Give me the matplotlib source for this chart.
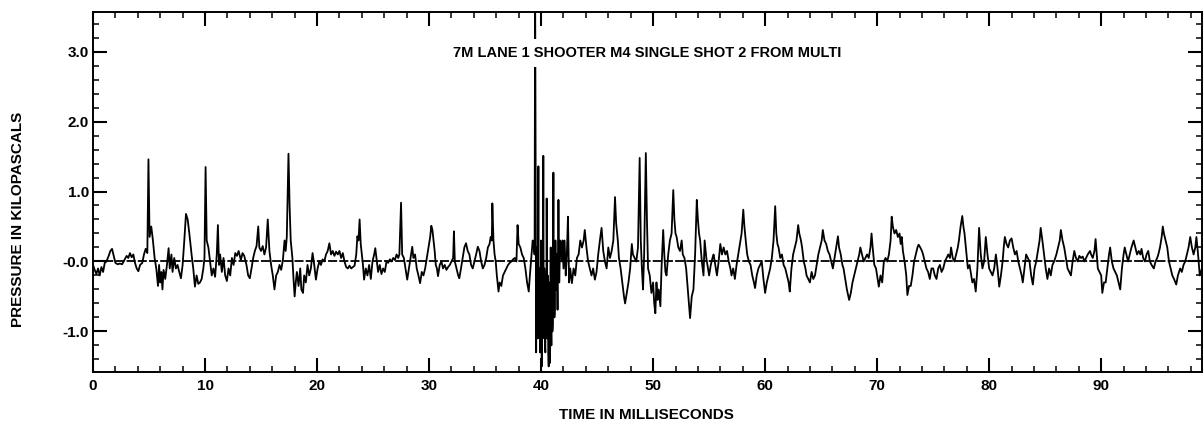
import matplotlib
matplotlib.use("Agg")
import matplotlib.pyplot as plt
from matplotlib.ticker import MultipleLocator

plt.rcParams['font.family'] = ['Liberation Sans', 'DejaVu Sans']

# time (ms) / pressure (kPa)
time_ms = [
    0.0, 0.15, 0.3, 0.45, 0.6, 0.75, 0.9, 1.05, 1.2, 1.4, 1.55, 1.7, 1.85, 2.0, 2.2, 2.4, 2.6, 2.8,
    3.0, 3.15, 3.3, 3.45, 3.6, 3.75, 3.9, 4.05, 4.2, 4.4, 4.55, 4.7, 4.85, 4.95, 5.05, 5.2, 5.35,
    5.5, 5.65, 5.8, 5.9, 6.0, 6.1, 6.2, 6.3, 6.45, 6.6, 6.75, 6.85, 7.0, 7.1, 7.25, 7.4, 7.55, 7.7,
    7.85, 8.0, 8.15, 8.3, 8.45, 8.6, 8.8, 8.95, 9.1, 9.25, 9.4, 9.55, 9.7, 9.85, 9.95, 10.05, 10.15,
    10.3, 10.45, 10.6, 10.75, 10.9, 11.05, 11.15, 11.25, 11.35, 11.5, 11.65, 11.8, 11.95, 12.1,
    12.25, 12.4, 12.55, 12.7, 12.85, 13.0, 13.2, 13.35, 13.5, 13.7, 13.85, 14.0, 14.15, 14.3, 14.45,
    14.6, 14.75, 14.85, 15.0, 15.15, 15.3, 15.45, 15.6, 15.75, 15.9, 16.05, 16.2, 16.35, 16.5,
    16.65, 16.8, 16.95, 17.1, 17.2, 17.3, 17.45, 17.55, 17.65, 17.8, 17.9, 18.0, 18.1, 18.2, 18.35,
    18.5, 18.6, 18.75, 18.85, 19.0, 19.15, 19.3, 19.45, 19.6, 19.75, 19.9, 20.05, 20.2, 20.35,
    20.5, 20.65, 20.8, 20.95, 21.1, 21.25, 21.4, 21.55, 21.7, 21.85, 22.0, 22.15, 22.3, 22.45,
    22.6, 22.75, 22.9, 23.05, 23.2, 23.35, 23.5, 23.6, 23.7, 23.8, 23.9, 24.0, 24.1, 24.2, 24.35,
    24.5, 24.65, 24.8, 24.95, 25.1, 25.2, 25.3, 25.45, 25.6, 25.75, 25.9, 26.05, 26.2, 26.35,
    26.5, 26.65, 26.8, 26.95, 27.1, 27.25, 27.35, 27.5, 27.6, 27.75, 27.9, 28.05, 28.2, 28.35,
    28.5, 28.6, 28.75, 28.9, 29.05, 29.2, 29.35, 29.5, 29.65, 29.8, 29.95, 30.1, 30.2, 30.3, 30.4,
    30.5, 30.6, 30.7, 30.8, 30.95, 31.1, 31.25, 31.4, 31.55, 31.7, 31.85, 32.0, 32.15, 32.22, 32.3,
    32.45, 32.6, 32.7, 32.85, 33.0, 33.15, 33.3, 33.45, 33.6, 33.75, 33.9, 34.05, 34.2, 34.35,
    34.5, 34.65, 34.8, 34.95, 35.1, 35.25, 35.4, 35.5, 35.6, 35.65, 35.75, 35.85, 35.95, 36.05,
    36.2, 36.3, 36.45, 36.6, 36.75, 36.9, 37.05, 37.2, 37.35, 37.5, 37.65, 37.8, 37.9, 38.0,
    38.15, 38.3, 38.45, 38.6, 38.75, 38.9, 39.0, 39.15, 39.25, 39.35, 39.42, 39.47, 39.52,
    39.56, 39.59, 39.62, 39.65, 39.68, 39.71, 39.74, 39.76, 39.79, 39.82,
    39.85, 39.88, 39.91, 39.94, 39.97, 40.0, 40.03, 40.06, 40.09, 40.12,
    40.15, 40.18, 40.2, 40.23, 40.26, 40.29, 40.32, 40.35, 40.38, 40.41,
    40.44, 40.47, 40.5, 40.53, 40.56, 40.59, 40.62, 40.65, 40.68, 40.71,
    40.74, 40.77, 40.8, 40.83, 40.86, 40.89, 40.92, 40.95, 40.98, 41.01,
    41.04, 41.07, 41.1, 41.13, 41.16, 41.19, 41.22,
    41.28, 41.34, 41.4, 41.47, 41.55, 41.62, 41.7, 41.78, 41.85, 41.92, 42.0, 42.1, 42.2, 42.3,
    42.4, 42.5, 42.6, 42.75, 42.9, 43.05, 43.2, 43.35, 43.5, 43.65, 43.8, 43.9, 44.05, 44.2, 44.35,
    44.5, 44.65, 44.8, 44.95, 45.1, 45.25, 45.4, 45.55, 45.7, 45.85, 46.0, 46.15, 46.3, 46.45,
    46.6, 46.7, 46.85, 46.95, 47.1, 47.25, 47.4, 47.5, 47.65, 47.8, 47.95, 48.1, 48.2, 48.35, 48.5,
    48.65, 48.8, 48.9, 49.0, 49.1, 49.2, 49.35, 49.45, 49.55, 49.7, 49.85, 50.0, 50.1, 50.2, 50.3,
    50.4, 50.5, 50.65, 50.75, 50.9, 51.0, 51.1, 51.2, 51.35, 51.5, 51.65, 51.8, 51.9, 52.0, 52.1,
    52.25, 52.4, 52.55, 52.65, 52.8, 52.95, 53.1, 53.2, 53.3, 53.45, 53.6, 53.75, 53.9, 54.0, 54.1,
    54.2, 54.35, 54.5, 54.6, 54.75, 54.9, 55.0, 55.15, 55.3, 55.4, 55.55, 55.7, 55.85, 56.0, 56.15,
    56.3, 56.45, 56.6, 56.75, 56.9, 57.0, 57.15, 57.3, 57.45, 57.6, 57.75, 57.9, 58.05, 58.15,
    58.3, 58.4, 58.55, 58.7, 58.85, 59.0, 59.1, 59.25, 59.4, 59.55, 59.7, 59.85, 60.0, 60.15, 60.3,
    60.45, 60.6, 60.75, 60.9, 61.0, 61.1, 61.2, 61.35, 61.5, 61.65, 61.8, 61.95, 62.1, 62.2, 62.35,
    62.5, 62.65, 62.8, 62.95, 63.05, 63.2, 63.3, 63.45, 63.6, 63.7, 63.85, 64.0, 64.15, 64.3,
    64.45, 64.6, 64.75, 64.9, 65.05, 65.15, 65.3, 65.45, 65.6, 65.75, 65.9, 66.05, 66.2, 66.35,
    66.5, 66.6, 66.75, 66.9, 67.0, 67.15, 67.3, 67.5, 67.65, 67.8, 67.95, 68.1, 68.25, 68.4, 68.5,
    68.65, 68.8, 68.95, 69.1, 69.25, 69.4, 69.5, 69.6, 69.75, 69.9, 70.05, 70.15, 70.3, 70.45,
    70.6, 70.75, 70.9, 71.05, 71.2, 71.3, 71.4, 71.55, 71.7, 71.85, 72.0, 72.1, 72.2, 72.3, 72.45,
    72.6, 72.7, 72.85, 73.0, 73.15, 73.3, 73.45, 73.6, 73.7, 73.85, 74.0, 74.1, 74.25, 74.4, 74.55,
    74.7, 74.85, 75.0, 75.15, 75.3, 75.45, 75.6, 75.75, 75.9, 76.05, 76.2, 76.35, 76.5, 76.6,
    76.75, 76.9, 77.05, 77.2, 77.3, 77.45, 77.6, 77.7, 77.8, 77.95, 78.1, 78.25, 78.4, 78.5, 78.65,
    78.8, 78.95, 79.1, 79.25, 79.4, 79.55, 79.7, 79.85, 80.0, 80.15, 80.3, 80.45, 80.6, 80.75,
    80.9, 81.05, 81.2, 81.3, 81.4, 81.55, 81.7, 81.85, 82.0, 82.15, 82.3, 82.45, 82.6, 82.75, 82.9,
    83.0, 83.15, 83.3, 83.45, 83.6, 83.75, 83.9, 84.05, 84.2, 84.35, 84.5, 84.6, 84.75, 84.9,
    85.05, 85.2, 85.35, 85.5, 85.65, 85.8, 86.0, 86.15, 86.3, 86.4, 86.55, 86.7, 86.85, 87.0,
    87.15, 87.3, 87.45, 87.6, 87.75, 87.9, 88.05, 88.2, 88.35, 88.5, 88.65, 88.8, 89.0, 89.1,
    89.25, 89.4, 89.5, 89.6, 89.7, 89.85, 90.0, 90.1, 90.25, 90.4, 90.55, 90.7, 90.8, 90.95, 91.1,
    91.25, 91.4, 91.55, 91.7, 91.85, 92.0, 92.1, 92.25, 92.4, 92.55, 92.7, 92.9, 93.05, 93.2,
    93.35, 93.5, 93.6, 93.75, 93.9, 94.05, 94.2, 94.35, 94.5, 94.7, 94.85, 95.0, 95.1, 95.25, 95.4,
    95.5, 95.6, 95.75, 95.9, 96.05, 96.2, 96.35, 96.5, 96.7, 96.85, 97.05, 97.2, 97.35, 97.5,
    97.65, 97.8, 97.95, 98.1, 98.25, 98.4, 98.5, 98.65, 98.8, 99.0,
]
pressure_kpa = [
    -0.05, -0.12, -0.18, -0.1, -0.2, -0.08, -0.15, -0.02, 0.0, 0.08, 0.15, 0.18, 0.08, -0.02, -0.04,
    -0.03, -0.04, 0.02, 0.08, 0.05, 0.12, 0.06, 0.1, -0.02, -0.1, -0.14, -0.05, -0.02, 0.1, 0.18,
    0.12, 1.46, 0.35, 0.5, 0.3, 0.05, -0.1, -0.35, -0.05, -0.3, -0.15, -0.4, -0.12, -0.25, -0.05,
    0.19, -0.1, 0.1, -0.15, 0.05, -0.1, -0.05, -0.15, -0.24, -0.05, 0.3, 0.68, 0.6, 0.4, 0.1, -0.1,
    -0.36, -0.2, -0.32, -0.3, -0.25, -0.1, 0.05, 1.35, 0.3, 0.2, 0.0, -0.2, -0.1, -0.22, 0.1, 0.52,
    -0.05, 0.1, -0.15, 0.05, -0.2, -0.28, -0.1, -0.2, 0.05, -0.05, 0.12, 0.08, 0.15, 0.02, 0.12,
    0.08, -0.05, -0.2, -0.24, -0.1, 0.05, 0.15, 0.22, 0.5, 0.2, 0.15, 0.22, 0.1, 0.2, 0.6, 0.15,
    -0.05, -0.2, -0.4, -0.2, -0.15, -0.05, -0.12, 0.02, 0.3, 0.15, 0.35, 1.54, 0.8, 0.3, 0.05,
    -0.25, -0.5, -0.3, -0.15, -0.35, -0.1, -0.4, -0.45, -0.2, -0.3, -0.05, -0.2, -0.1, 0.12, -0.05,
    -0.26, -0.1, 0.0, -0.05, 0.03, 0.0, 0.1, 0.15, 0.26, 0.1, 0.15, 0.08, 0.14, 0.1, 0.15, 0.05,
    0.12, 0.0, -0.08, -0.1, -0.06, -0.1, -0.08, -0.06, 0.1, 0.36, 0.3, 0.6, 0.25, 0.1, -0.05, -0.26,
    -0.1, -0.2, -0.05, -0.25, 0.0, 0.1, 0.19, 0.05, -0.15, -0.05, -0.18, -0.1, -0.15, 0.0, -0.02,
    0.03, 0.0, 0.05, 0.02, 0.1, 0.05, 0.1, 0.84, 0.1, 0.05, -0.1, -0.26, -0.1, 0.05, 0.21, 0.05,
    0.1, -0.1, -0.2, -0.31, -0.15, -0.2, -0.1, 0.05, 0.2, 0.35, 0.51, 0.45, 0.3, 0.15, -0.05, -0.1,
    -0.21, -0.05, 0.0, -0.1, -0.05, -0.12, -0.08, -0.05, 0.0, 0.05, 0.43, 0.0, -0.1, -0.2, -0.24,
    -0.1, 0.05, 0.2, 0.26, 0.15, 0.1, -0.05, -0.1, 0.0, 0.1, 0.21, 0.15, 0.0, -0.1, -0.05, 0.05,
    0.2, 0.25, 0.35, 0.3, 0.83, 0.3, 0.1, 0.0, -0.2, -0.43, -0.3, -0.35, -0.2, -0.15, -0.1, -0.05,
    -0.02, 0.0, 0.03, 0.05, 0.0, 0.52, 0.25, 0.2, 0.1, 0.05, -0.1, -0.3, -0.43, -0.2, 0.1, 0.3,
    0.2, 0.1, 3.9, 0.9,
    -1.3, -0.2, 0.2, -0.9, -0.6, -1.1, 0.4, 1.36, -0.8, -1.0,
    -0.1, -0.2, -1.3, -1.2, -0.3, 0.3, -0.7, -1.5, -0.2, -0.4,
    -1.1, 0.6, 1.51, -0.5, -0.9, -0.1, -0.3, -1.2, -1.3, -0.2,
    -0.5, -1.0, 0.9, -0.4, -1.1, -0.2, -0.4, -1.3, -1.5, -0.3,
    -0.6, -1.2, -1.45, -0.4, 0.2, -0.8, -1.2, -0.1, -0.3, -1.0,
    -0.9, 0.3, 1.27, -0.2, -0.3, -0.8, -0.7,
    0.3, -0.4, 0.1, -0.69, 0.88, -0.3, 0.3, 0.25, 0.0, 0.3, -0.1, 0.3, -0.2, 0.1, 0.64, -0.3, -0.1,
    -0.31, -0.1, -0.2, 0.05, 0.1, 0.3, 0.2, 0.3, 0.45, 0.2, 0.0, -0.1, -0.2, -0.1, -0.26, -0.15,
    0.1, 0.3, 0.48, 0.15, 0.0, -0.1, 0.2, 0.05, 0.15, 0.3, 0.92, 0.55, 0.3, 0.05, -0.1, -0.3, -0.5,
    -0.6, -0.45, -0.3, -0.1, 0.25, 0.1, 0.05, 0.0, 0.2, 1.48, 0.3, -0.1, -0.4, 0.1, 1.55, 0.6, -0.1,
    -0.2, -0.45, -0.3, -0.6, -0.74, -0.3, -0.55, -0.4, -0.64, -0.1, 0.45, 0.1, -0.15, -0.2, 0.1,
    0.3, 0.4, 1.02, 0.6, 0.4, 0.35, 0.2, 0.15, 0.3, 0.1, 0.05, -0.1, -0.4, -0.6, -0.81, -0.5, -0.4,
    0.1, 0.88, 0.6, 0.4, 0.3, 0.0, -0.2, 0.3, 0.05, -0.1, -0.2, -0.05, 0.05, 0.1, -0.05, -0.2, 0.0,
    0.25, 0.1, 0.2, 0.1, 0.15, 0.0, -0.1, -0.2, -0.1, -0.25, -0.05, 0.1, 0.25, 0.4, 0.74, 0.5,
    0.25, 0.1, 0.0, -0.05, -0.2, -0.3, -0.38, -0.2, -0.1, -0.05, 0.0, -0.25, -0.45, -0.3, -0.2,
    -0.1, 0.05, 0.3, 0.79, 0.4, 0.25, 0.2, 0.05, 0.1, -0.05, -0.1, -0.2, -0.3, -0.43, -0.1, 0.1,
    0.2, 0.3, 0.52, 0.4, 0.3, 0.2, 0.0, -0.1, -0.2, -0.25, -0.3, -0.15, -0.25, -0.2, -0.05, 0.1,
    0.2, 0.3, 0.45, 0.3, 0.25, 0.15, 0.1, 0.0, -0.1, 0.05, 0.2, 0.36, 0.2, 0.1, -0.05, -0.1, -0.25,
    -0.4, -0.55, -0.45, -0.3, -0.2, -0.1, 0.0, 0.1, 0.2, 0.1, 0.0, 0.05, 0.1, 0.05, 0.2, 0.4, 0.2,
    -0.05, -0.1, -0.25, -0.36, -0.2, -0.3, 0.0, 0.05, 0.0, 0.1, 0.3, 0.64, 0.5, 0.4, 0.45, 0.35,
    0.4, 0.25, 0.35, 0.15, 0.0, -0.2, -0.48, -0.35, -0.35, -0.2, 0.0, 0.1, 0.2, 0.24, 0.2, 0.15,
    0.1, 0.0, -0.1, -0.15, -0.25, -0.1, -0.1, -0.2, -0.25, -0.1, -0.05, -0.15, -0.1, 0.0, 0.05,
    0.1, 0.05, 0.2, 0.05, 0.0, 0.1, 0.2, 0.3, 0.5, 0.65, 0.5, 0.4, 0.15, -0.1, -0.05, -0.2, -0.3,
    -0.25, -0.43, -0.1, 0.48, 0.1, -0.1, 0.0, 0.35, 0.1, -0.1, -0.15, -0.2, -0.1, 0.1, -0.1, -0.36,
    -0.2, 0.0, 0.2, 0.35, 0.25, 0.2, 0.3, 0.33, 0.2, 0.1, 0.15, 0.0, -0.1, -0.2, -0.3, -0.1, 0.1,
    0.05, 0.0, -0.2, -0.33, -0.1, 0.0, 0.15, 0.3, 0.48, 0.3, 0.1, -0.1, -0.25, -0.1, -0.2, -0.05,
    0.0, 0.1, 0.2, 0.3, 0.45, 0.3, 0.2, 0.05, -0.1, -0.15, -0.2, 0.0, 0.15, 0.05, 0.0, 0.08, 0.05,
    0.07, 0.0, 0.05, 0.1, 0.15, 0.1, 0.05, 0.15, 0.32, 0.1, -0.1, -0.15, -0.2, -0.45, -0.3, -0.3,
    -0.1, 0.1, 0.2, 0.0, -0.1, -0.15, -0.2, -0.3, -0.4, -0.1, 0.1, 0.2, 0.1, 0.0, 0.1, 0.2, 0.3,
    0.2, 0.1, 0.15, 0.1, 0.18, 0.05, 0.0, 0.1, 0.15, 0.0, -0.05, -0.1, 0.0, 0.05, 0.1, 0.2, 0.35,
    0.5, 0.4, 0.3, 0.2, 0.0, -0.1, -0.2, -0.25, -0.33, -0.2, -0.1, -0.15, -0.05, 0.0, 0.1, 0.2,
    0.35, 0.2, 0.1, 0.2, 0.35, 0.1, -0.2, -0.1,
]

x_major = [0, 10, 20, 30, 40, 50, 60, 70, 80, 90]
x_labels = ["0", "10", "20", "30", "40", "50", "60", "70", "80", "90"]
y_major = [-1.0, 0.0, 1.0, 2.0, 3.0]
y_labels = ["-1.0", "-0.0", "1.0", "2.0", "3.0"]

title = "7M LANE 1 SHOOTER M4 SINGLE SHOT 2 FROM MULTI"

fig = plt.figure(figsize=(12.04, 4.25), dpi=100)
ax = fig.add_axes([93 / 1204, 1 - 372 / 425, (1202 - 93) / 1204, (372 - 11.7) / 425])

ax.plot(time_ms, pressure_kpa, color="black", lw=1.3, zorder=3)
ax.axhline(0, color="black", lw=1.3, ls=(0, (5, 1.2)), zorder=2)

ax.set_xlim(0, 99)
ax.set_ylim(-1.58, 3.57)

ax.set_xticks(x_major)
ax.set_xticklabels(x_labels)
ax.set_yticks(y_major)
ax.set_yticklabels(y_labels)
ax.xaxis.set_minor_locator(MultipleLocator(2))
ax.yaxis.set_minor_locator(MultipleLocator(0.2))

ax.tick_params(which="both", direction="in", top=True, right=True, labelsize=11)
ax.tick_params(which="major", length=10, width=1.5)
ax.tick_params(which="minor", length=4, width=1.1)
ax.tick_params(axis="x", pad=5)
ax.tick_params(axis="y", pad=3)
for lab in ax.get_xticklabels() + ax.get_yticklabels():
    lab.set_fontweight("bold")

for sp in ax.spines.values():
    sp.set_linewidth(1.4)

ax.text(0.5, 0.8845, title, transform=ax.transAxes, ha="center", va="center",
        fontsize=10.5, fontweight="bold", zorder=5,
        bbox=dict(facecolor="white", edgecolor="none", pad=5))

fig.text(646 / 1204, 1 - 415 / 425, "TIME IN MILLISECONDS", ha="center", va="center",
         fontsize=11, fontweight="bold")
fig.text(18 / 1204, 1 - 219 / 425, "PRESSURE IN KILOPASCALS", ha="center", va="center",
         rotation=90, fontsize=11, fontweight="bold")

fig.savefig("out.png", dpi=100)
